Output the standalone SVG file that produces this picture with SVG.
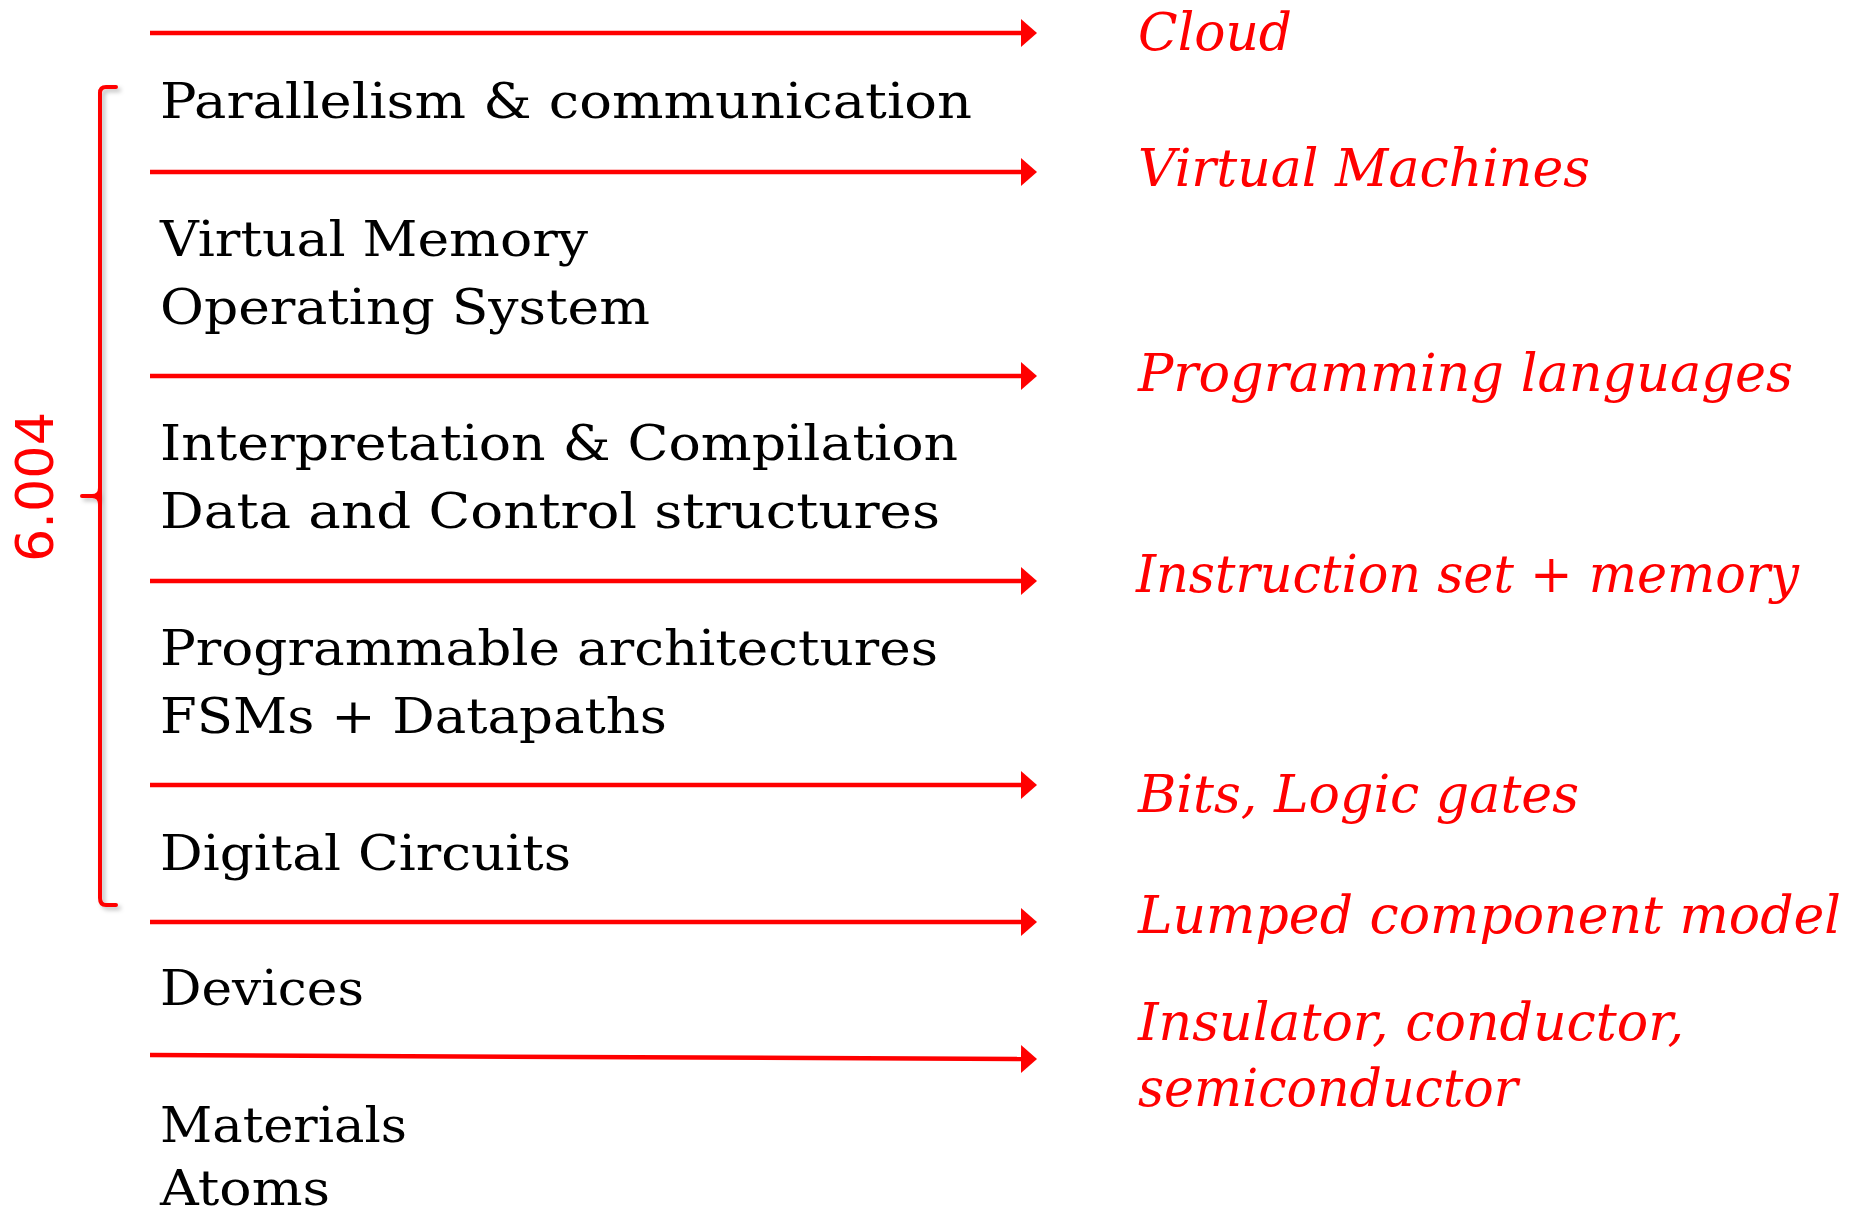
<svg xmlns="http://www.w3.org/2000/svg" width="1859" height="1207" viewBox="0 0 1859 1207">
<style>
.lbl{font-family:"DejaVu Serif","Liberation Serif",serif;font-size:48px;fill:#000}
.red{font-family:"DejaVu Serif","Liberation Serif",serif;font-size:52px;font-style:italic;fill:#ff0000}
.num{font-family:"DejaVu Sans","Liberation Sans",sans-serif;font-size:52px;fill:#ff0000}
.arr{stroke:#ff0000;stroke-width:4.5;fill:none}
.br{stroke:#ff0000;stroke-width:4;fill:none;stroke-linecap:round}
</style>
<defs>
<marker id="ah" markerUnits="userSpaceOnUse" markerWidth="18" markerHeight="30" refX="0" refY="14" orient="auto">
<path d="M0,0 L16,14 L0,28 Z" fill="#ff0000"/>
</marker>
<filter id="sh" x="-50%" y="-5%" width="200%" height="110%">
<feDropShadow dx="3" dy="3" stdDeviation="2" flood-color="#000" flood-opacity="0.25"/>
</filter>
</defs>
<rect width="1859" height="1207" fill="#fff"/>
<g id="connectors">
<line class="arr" x1="150" y1="33" x2="1021" y2="33" marker-end="url(#ah)"/>
<line class="arr" x1="150" y1="172" x2="1021" y2="172" marker-end="url(#ah)"/>
<line class="arr" x1="150" y1="376" x2="1021" y2="376" marker-end="url(#ah)"/>
<line class="arr" x1="150" y1="581" x2="1021" y2="581" marker-end="url(#ah)"/>
<line class="arr" x1="150" y1="785" x2="1021" y2="785" marker-end="url(#ah)"/>
<line class="arr" x1="150" y1="922" x2="1021" y2="922" marker-end="url(#ah)"/>
<line class="arr" x1="150" y1="1055" x2="1021" y2="1059" marker-end="url(#ah)"/>
</g>
<g id="bracket" filter="url(#sh)">
<path class="br" d="M116,87 L106,87 Q100,87 100,93 L100,898 Q100,905 106,905 L116,905"/>
<path class="br" d="M82,496 L92,496 Q100,496 100,488 M92,496 Q100,496 100,504"/>
</g>
<g id="label-6004">
<text class="num" x="53" y="487" text-anchor="middle" transform="rotate(-90 53 487)" textLength="150" lengthAdjust="spacingAndGlyphs">6.004</text>
</g>
<g id="layers">
<text class="lbl" x="160" y="118" textLength="812" lengthAdjust="spacingAndGlyphs">Parallelism &amp; communication</text>
<text class="lbl" x="160" y="256" textLength="428" lengthAdjust="spacingAndGlyphs">Virtual Memory</text>
<text class="lbl" x="160" y="324" textLength="490" lengthAdjust="spacingAndGlyphs">Operating System</text>
<text class="lbl" x="160" y="460" textLength="798" lengthAdjust="spacingAndGlyphs">Interpretation &amp; Compilation</text>
<text class="lbl" x="160" y="528" textLength="780" lengthAdjust="spacingAndGlyphs">Data and Control structures</text>
<text class="lbl" x="160" y="665" textLength="778" lengthAdjust="spacingAndGlyphs">Programmable architectures</text>
<text class="lbl" x="160" y="733" textLength="507" lengthAdjust="spacingAndGlyphs">FSMs + Datapaths</text>
<text class="lbl" x="160" y="870" textLength="411" lengthAdjust="spacingAndGlyphs">Digital Circuits</text>
<text class="lbl" x="160" y="1005" textLength="204" lengthAdjust="spacingAndGlyphs">Devices</text>
<text class="lbl" x="160" y="1142" textLength="247" lengthAdjust="spacingAndGlyphs">Materials</text>
<text class="lbl" x="160" y="1205" textLength="170" lengthAdjust="spacingAndGlyphs">Atoms</text>
</g>
<g id="abstractions">
<text class="red" x="1138" y="50" textLength="154" lengthAdjust="spacingAndGlyphs">Cloud</text>
<text class="red" x="1138" y="186" textLength="452" lengthAdjust="spacingAndGlyphs">Virtual Machines</text>
<text class="red" x="1138" y="391" textLength="655" lengthAdjust="spacingAndGlyphs">Programming languages</text>
<text class="red" x="1136" y="592" textLength="663" lengthAdjust="spacingAndGlyphs">Instruction set + memory</text>
<text class="red" x="1138" y="812" textLength="441" lengthAdjust="spacingAndGlyphs">Bits, Logic gates</text>
<text class="red" x="1138" y="933" textLength="703" lengthAdjust="spacingAndGlyphs">Lumped component model</text>
<text class="red" x="1138" y="1040" textLength="546" lengthAdjust="spacingAndGlyphs">Insulator, conductor,</text>
<text class="red" x="1138" y="1106" textLength="380" lengthAdjust="spacingAndGlyphs">semiconductor</text>
</g>
</svg>
